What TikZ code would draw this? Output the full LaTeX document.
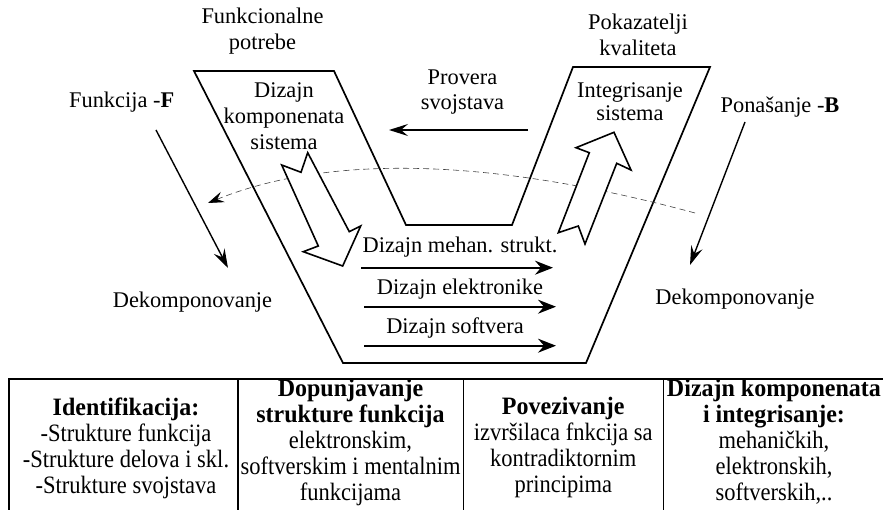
\documentclass[tikz,border=0pt]{standalone}
\usepackage{fontspec}
\setmainfont{Liberation Serif}
\newfontfamily\tablefont[FakeStretch=0.9,BoldFeatures={FakeStretch=0.96}]{Liberation Serif}
\usetikzlibrary{arrows.meta}
\begin{document}
\begin{tikzpicture}[x=1pt,y=-1pt,
  lbl/.style={align=center,inner sep=0pt,font=\fontsize{22.4}{26}\selectfont},
  cell/.style={align=center,inner sep=0pt,font=\tablefont\fontsize{25}{26}\selectfont},
  frame/.style={line width=1.7pt,line join=miter},
  blockarrow/.style={line width=1.6pt,fill=white,line join=miter},
  thinarrow/.style={line width=1.4pt,-{Stealth[length=19pt,width=12pt,inset=7pt]}},
  flowarrow/.style={line width=1.7pt,-{Stealth[length=18pt,width=14pt,inset=6pt]}},
  backarrow/.style={line width=0.6pt,black!75,dash pattern=on 6pt off 4pt,
    -{Stealth[length=16pt,width=11pt,inset=6pt,black]}},
  tableline/.style={line width=1.6pt}
]
\useasboundingbox (0,0) rectangle (883,510);

% V-shaped process frame
\draw[frame] (194,71) -- (343,363) -- (586,363) -- (710,67) -- (573,67)
  -- (512,225) -- (406,225) -- (334,71) -- cycle;

% labels around the frame
\node[lbl] (needs) at (262.5,31.5) {Funkcionalne\\potrebe};
\node[lbl] (quality) at (638,34.5) {Pokazatelji\\kvaliteta};
\node[lbl] (compdesign) at (284,116) {Dizajn\\komponenata\\sistema};
\node[lbl,font=\fontsize{22.4}{25}\selectfont] (check) at (462.5,92.5) {Provera\\svojstava};
\node[lbl,font=\fontsize{22.4}{23.5}\selectfont] (integr) at (630,101.5) {Integrisanje\\sistema};
\node[lbl] (func) at (121.7,102) {Funkcija -\textbf{F}};
\node[lbl] (behav) at (780,107) {Ponašanje -\textbf{B}};
\node[lbl] (decL) at (192.5,301.7) {Dekomponovanje};
\node[lbl] (decR) at (735,299) {Dekomponovanje};
\node[lbl] (mech) at (460,246.7) {Dizajn mehan. strukt.};
\node[lbl] (elec) at (460,289) {Dizajn elektronike};
\node[lbl] (soft) at (455,328) {Dizajn softvera};

% side arrows
\coordinate (fS) at (156,130);  \coordinate (fE) at (228,268);
\coordinate (bS) at (745,122);  \coordinate (bE) at (690,265);
\coordinate (pS) at (528,130);  \coordinate (pE) at (389,130);
\draw[thinarrow] (fS) -- (fE);
\draw[thinarrow] (bS) -- (bE);
\draw[thinarrow] (pS) -- (pE);

% discipline design arrows
\coordinate (m1) at (361,267.7); \coordinate (m2) at (553,267.7);
\coordinate (e1) at (364,306.7); \coordinate (e2) at (556,306.7);
\coordinate (s1) at (364,345.7); \coordinate (s2) at (556,345.7);
\draw[flowarrow] (m1) -- (m2);
\draw[flowarrow] (e1) -- (e2);
\draw[flowarrow] (s1) -- (s2);

% feedback arc
\coordinate (aS) at (695,213);
\coordinate (aE) at (208,203);
\draw[backarrow] (aS) .. controls (490.7,157.7) and (328.3,154.3) .. (aE);

% block arrows
\draw[blockarrow] (281.7,165) -- (301,172.3) -- (307.7,152.7) -- (349.3,231.7)
  -- (360.7,226) -- (342.7,266) -- (303.3,251.7) -- (318.3,246) -- cycle;
\draw[blockarrow] (558.3,232.7) -- (578.3,226) -- (585,244) -- (616.7,163.3)
  -- (631,170) -- (614,132.3) -- (576,147.7) -- (589.3,152.7) -- cycle;

% table
\draw[tableline] (9,515) -- (9,379) -- (886,379);
\draw[tableline] (238,379) -- (238,515);
\draw[tableline] (463.3,379) -- (463.3,515);
\draw[tableline] (663.3,379) -- (663.3,515);
\draw[tableline] (885,379) -- (885,515);

\node[cell] (c1) at (126,448) {\textbf{Identifikacija:}\\-Strukture funkcija\\-Strukture delova i skl.\\-Strukture svojstava};
\node[cell] (c2) at (350.5,442.5) {\textbf{Dopunjavanje}\\\textbf{strukture funkcija}\\elektronskim,\\softverskim i mentalnim\\funkcijama};
\node[cell] (c3) at (563.3,447) {\textbf{Povezivanje}\\izvršilaca fnkcija sa\\kontradiktornim\\principima};
\node[cell] (c4) at (774,442) {\textbf{Dizajn komponenata}\\\textbf{i integrisanje:}\\mehaničkih,\\elektronskih,\\softverskih,..};
\end{tikzpicture}
\end{document}
